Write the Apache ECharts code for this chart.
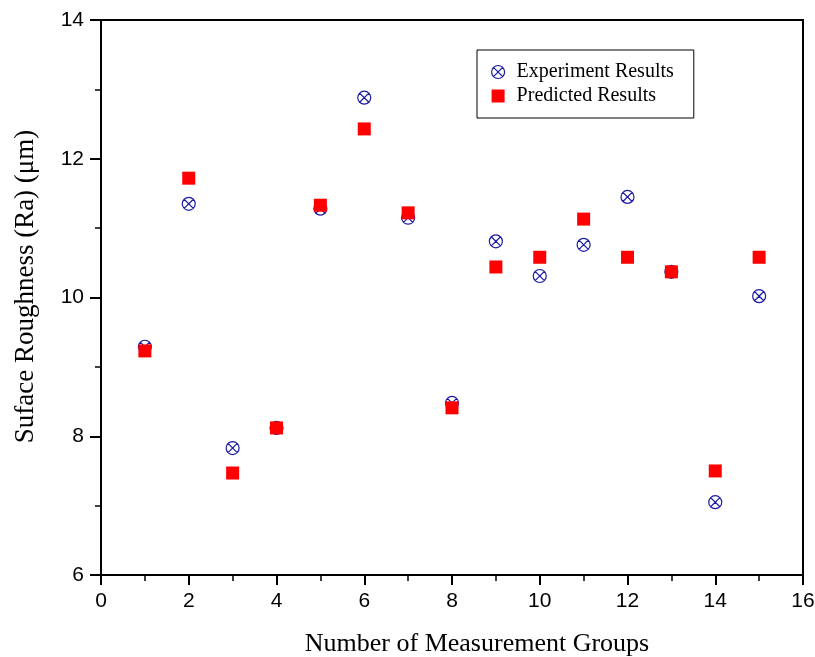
<!DOCTYPE html>
<html>
<head>
<meta charset="utf-8">
<script src="https://cdn.jsdelivr.net/npm/echarts@6/dist/echarts.min.js"></script>
<style>
  html, body { margin: 0; padding: 0; background: #fff; }
  #main { width: 815px; height: 657px; }
</style>
</head>
<body>
<div id="main"></div>
<script>
// measurement group numbers
var groups = [1, 2, 3, 4, 5, 6, 7, 8, 9, 10, 11, 12, 13, 14, 15]
// surface roughness Ra
var experiment = [9.29, 11.35, 7.83, 8.12, 11.28, 12.88, 11.15, 8.48, 10.81, 10.31, 10.76, 11.45, 10.37, 7.05, 10.02]
var predicted = [9.23, 11.72, 7.47, 8.12, 11.33, 12.43, 11.22, 8.41, 10.44, 10.58, 11.13, 10.58, 10.37, 7.50, 10.58]

// circle with a cross in it
var crossCircle = 'path://M0,10 A10,10 0 1,1 20,10 A10,10 0 1,1 0,10 Z M2.93,2.93 L17.07,17.07 M17.07,2.93 L2.93,17.07'

function pairs(ys) {
  return groups.map(function (g, i) { return [g, ys[i]] })
}

var myChart = echarts.init(document.getElementById('main'))
var option = {
  animation: false,
  grid: {
    left: 101, right: 12, top: 20, bottom: 82,
    outerBoundsMode: 'none',
    containLabel: false,
    show: true, borderColor: '#000', borderWidth: 2, backgroundColor: 'transparent'
  },
  legend: {
    orient: 'vertical',
    left: 477, top: 50,
    padding: [12, 20, 12, 14],
    itemGap: 4,
    itemWidth: 13, itemHeight: 13,
    borderColor: '#000', borderWidth: 1,
    textStyle: { fontFamily: 'Liberation Serif', fontSize: 20, color: '#000', padding: [0, 0, 0, 7] },
    data: [
      { name: 'Experiment Results', icon: crossCircle, itemStyle: { color: 'rgba(0,0,0,0)', borderColor: '#1a1aa6', borderWidth: 1.2 } },
      { name: 'Predicted Results', icon: 'rect', itemStyle: { color: '#ff0000', opacity: 1 } }
    ]
  },
  xAxis: {
    type: 'value',
    min: 0, max: 16, interval: 2,
    name: 'Number of Measurement Groups',
    nameLocation: 'middle',
    nameGap: 56,
    nameTextStyle: { fontFamily: 'Liberation Serif', fontSize: 26, color: '#000', padding: [0, 0, 0, 50] },
    axisLine: { lineStyle: { color: '#000', width: 2 } },
    axisTick: { inside: false, length: 10, lineStyle: { color: '#000', width: 2 } },
    minorTick: { show: true, splitNumber: 2, length: 6, lineStyle: { color: '#000', width: 1.5 } },
    axisLabel: { fontFamily: 'Liberation Sans', fontSize: 21, color: '#000', margin: 16 },
    splitLine: { show: false }
  },
  yAxis: {
    type: 'value',
    min: 6, max: 14, interval: 2,
    name: 'Suface Roughness (Ra) (μm)',
    nameLocation: 'middle',
    nameGap: 62,
    nameTextStyle: { fontFamily: 'Liberation Serif', fontSize: 27, color: '#000', padding: [0, 0, 0, 22] },
    axisLine: { lineStyle: { color: '#000', width: 2 } },
    axisTick: { inside: false, length: 11, lineStyle: { color: '#000', width: 2 } },
    minorTick: { show: true, splitNumber: 2, length: 6, lineStyle: { color: '#000', width: 1.5 } },
    axisLabel: { fontFamily: 'Liberation Sans', fontSize: 21, color: '#000', margin: 17 },
    splitLine: { show: false }
  },
  series: [
    {
      name: 'Experiment Results',
      type: 'scatter',
      symbol: crossCircle,
      symbolSize: 13,
      z: 2,
      itemStyle: { color: 'rgba(0,0,0,0)', borderColor: '#1a1aa6', borderWidth: 1.2, opacity: 1 },
      data: pairs(experiment)
    },
    {
      name: 'Predicted Results',
      type: 'scatter',
      symbol: 'rect',
      symbolSize: 13,
      z: 3,
      itemStyle: { color: '#ff0000', opacity: 1 },
      data: pairs(predicted)
    }
  ]
}
myChart.setOption(option)
</script>
</body>
</html>
